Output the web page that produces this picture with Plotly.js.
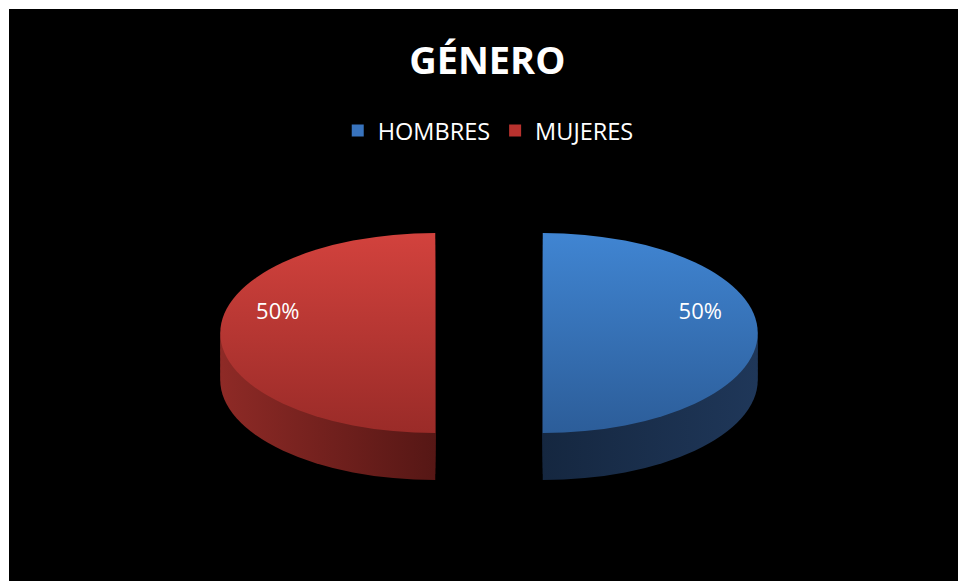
<!DOCTYPE html>
<html><head><meta charset="utf-8">
<script src="https://cdn.plot.ly/plotly-3.0.1.min.js"></script>
<style>
html,body{margin:0;padding:0;background:#fff;}
#chart{position:absolute;left:9px;top:9px;width:949px;height:572px;}
</style>
</head><body><div id="chart"></div>
<script>
// ---- data ----
const labels = ['HOMBRES', 'MUJERES'];
const values = [50, 50];
const topColors = ['#3873bd', '#b8322e'];
const sideColors = ['#1b3050', '#6e1f1c'];
const chartTitle = 'GÉNERO';

// ---- styling / 3D look ----
const PULL = 0.25, LAYERS = 8;
const TX = 480, TY = 324, RX = 215, RY = 100, DEPTH = 47;
const LABEL_SPREAD = 1.31, LABEL_LIFT = -23;
const topGrad = [['#4085d2', '#2c5d99'], ['#d2423d', '#9a2b28']];
const sideGrad = [['#152740', '#1f3759'], ['#8e2a26', '#561715']];
const pullArr = labels.map(() => PULL);

const traces = [];
for (let k = LAYERS; k >= 1; k--) {
  traces.push({
    type: 'pie', labels: labels, values: values, sort: false,
    direction: 'clockwise', rotation: 0, pull: pullArr,
    marker: {colors: sideColors, line: {width: 0}},
    textinfo: 'none', hoverinfo: 'skip', showlegend: false,
    domain: {x: [0, 1], y: [0, 1]}
  });
}
traces.push({
  type: 'pie', labels: labels, values: values, sort: false,
  direction: 'clockwise', rotation: 0, pull: pullArr,
  marker: {colors: topColors, line: {width: 0}},
  textinfo: 'percent', textposition: 'inside', insidetextorientation: 'horizontal',
  insidetextfont: {family: 'Open Sans', size: 22, color: '#ffffff'},
  domain: {x: [0, 1], y: [0, 1]}
});

const layout = {
  width: 949, height: 572,
  paper_bgcolor: '#000000', plot_bgcolor: '#000000',
  margin: {l: 0, r: 0, t: 0, b: 0},
  title: {text: chartTitle, x: 0.504, xanchor: 'center', y: 0.91, yanchor: 'middle',
          font: {family: 'Open Sans', size: 38, color: '#ffffff', weight: 700}},
  showlegend: true,
  legend: {orientation: 'h', x: 0.505, xanchor: 'center', y: 0.787, yanchor: 'middle',
           font: {family: 'Open Sans', size: 23.5, color: '#ffffff'}, bgcolor: 'rgba(0,0,0,0)'}
};

function addGrad(defs, id, c1, c2, vertical) {
  const ns = 'http://www.w3.org/2000/svg';
  const g = document.createElementNS(ns, 'linearGradient');
  g.setAttribute('id', id);
  g.setAttribute('x1', '0'); g.setAttribute('y1', '0');
  g.setAttribute('x2', vertical ? '0' : '1'); g.setAttribute('y2', vertical ? '1' : '0');
  [[0, c1], [1, c2]].forEach(([o, c]) => {
    const s = document.createElementNS(ns, 'stop');
    s.setAttribute('offset', o); s.setAttribute('stop-color', c);
    g.appendChild(s);
  });
  defs.appendChild(g);
}

function shape3d(gd) {
  const svg = gd.querySelector('svg.main-svg');
  let defs = svg.querySelector('defs');
  if (!defs) { defs = document.createElementNS('http://www.w3.org/2000/svg', 'defs'); svg.prepend(defs); }
  topGrad.forEach((c, j) => addGrad(defs, 'gt' + j, c[0], c[1], true));
  sideGrad.forEach((c, j) => addGrad(defs, 'gs' + j, c[0], c[1], false));
  const srect = svg.getBoundingClientRect();
  const trs = gd.querySelectorAll('.pielayer .trace');
  trs.forEach((tr, i) => {
    const c0 = gd.calcdata[i][0];
    const cx = c0.cx, cy = c0.cy, r = c0.r;
    const sx = RX / r, sy = RY / r;
    const isTop = i === trs.length - 1;
    const off = isTop ? 0 : DEPTH * (LAYERS - i) / LAYERS;
    const tf = 'translate(' + TX + ',' + (TY + off) + ') scale(' + sx + ',' + sy + ') translate(' + (-cx) + ',' + (-cy) + ')';
    tr.querySelectorAll('path.surface').forEach((p, j) => {
      p.setAttribute('transform', tf);
      p.style.fill = 'url(#' + (isTop ? 'gt' : 'gs') + j + ')';
    });
    if (isTop) {
      tr.querySelectorAll('g.slicetext').forEach(g => {
        const t = g.querySelector('text');
        if (!t) return;
        const b = t.getBoundingClientRect();
        const px = (b.left + b.right) / 2 - srect.left;
        const py = (b.top + b.bottom) / 2 - srect.top;
        const qx = TX + LABEL_SPREAD * sx * (px - cx);
        const qy = TY + sy * (py - cy) + LABEL_LIFT;
        g.setAttribute('transform', 'translate(' + (qx - px) + ',' + (qy - py) + ')');
      });
    }
  });
}

Plotly.newPlot('chart', traces, layout, {displayModeBar: false, staticPlot: true}).then(shape3d);
</script>
</body></html>
